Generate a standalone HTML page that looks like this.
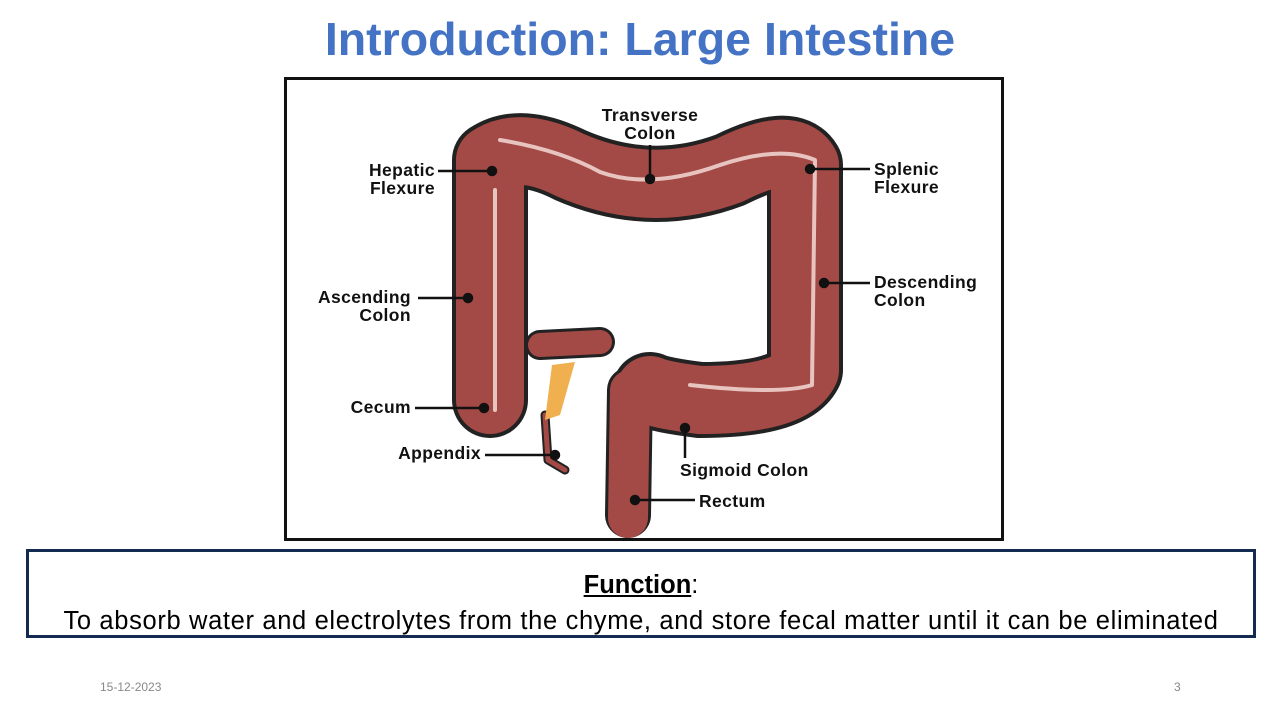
<!DOCTYPE html>
<html><head><meta charset="utf-8"><style>
body{margin:0;width:1280px;height:720px;background:#fff;position:relative;overflow:hidden;font-family:"Liberation Sans",Arial,sans-serif}
.t{position:absolute;left:0;width:1280px;top:12px;text-align:center;font-size:46.5px;font-weight:bold;color:#4472c4;font-family:"Liberation Sans",sans-serif}
.img{position:absolute;left:284px;top:77px;width:714px;height:458px;border:3px solid #111}
.fn{position:absolute;left:26px;top:549px;width:1224px;height:83px;border:3px solid #142a50;text-align:center;font-size:25.5px;color:#000}
.ft{position:absolute;top:680px;font-size:12px;color:#888}
</style></head><body>
<div class="t">Introduction: Large Intestine</div>
<div class="img"></div>
<svg style="position:absolute;left:0;top:0" width="1280" height="720">
<g fill="none" stroke-linecap="round" stroke-linejoin="round">
<path d="M540,345 L600,342" stroke="#222" stroke-width="30"/>
<path d="M540,345 L600,342" stroke="#a44a46" stroke-width="24"/>
<path d="M545,415 L548,460 L565,470" stroke="#222" stroke-width="9"/>
<path d="M545,415 L548,460 L565,470" stroke="#a44a46" stroke-width="5"/>
<path d="M490,400 L490,160 Q520,140 570,165 Q650,200 730,170 Q790,140 805,165 L805,370 Q790,400 700,400 Q660,395 650,390" stroke="#222" stroke-width="76"/>
<path d="M630,390 L628,515" stroke="#222" stroke-width="46"/>
<path d="M630,390 L628,518" stroke="#a44a46" stroke-width="40"/>
<path d="M490,400 L490,160 Q520,140 570,165 Q650,200 730,170 Q790,140 805,165 L805,370 Q790,400 700,400 Q660,395 650,390" stroke="#a44a46" stroke-width="68"/>
<path d="M495,410 L495,190 M500,140 Q560,150 600,172 Q650,190 720,165 Q780,145 815,160 L812,385 Q780,395 690,385" stroke="#e8c4c0" stroke-width="4"/>
</g>
<polygon points="552,365 575,362 560,415 545,420" fill="#f0b050"/>
<g stroke="#111" stroke-width="2.5" fill="#111">
<line x1="438" y1="171" x2="492" y2="171"/><circle cx="492" cy="171" r="4"/>
<line x1="418" y1="298" x2="468" y2="298"/><circle cx="468" cy="298" r="4"/>
<line x1="415" y1="408" x2="484" y2="408"/><circle cx="484" cy="408" r="4"/>
<line x1="485" y1="455" x2="555" y2="455"/><circle cx="555" cy="455" r="4"/>
<line x1="650" y1="145" x2="650" y2="179"/><circle cx="650" cy="179" r="4"/>
<line x1="810" y1="169" x2="870" y2="169"/><circle cx="810" cy="169" r="4"/>
<line x1="824" y1="283" x2="870" y2="283"/><circle cx="824" cy="283" r="4"/>
<line x1="685" y1="428" x2="685" y2="458"/><circle cx="685" cy="428" r="4"/>
<line x1="635" y1="500" x2="695" y2="500"/><circle cx="635" cy="500" r="4"/>
</g>
<g font-family="Liberation Sans,sans-serif" font-weight="bold" font-size="17.5" fill="#111" letter-spacing="0.4">
<text x="650" y="121" text-anchor="middle">Transverse</text><text x="650" y="139" text-anchor="middle">Colon</text>
<text x="435" y="176" text-anchor="end">Hepatic</text><text x="435" y="194" text-anchor="end">Flexure</text>
<text x="874" y="175">Splenic</text><text x="874" y="193">Flexure</text>
<text x="411" y="303" text-anchor="end">Ascending</text><text x="411" y="321" text-anchor="end">Colon</text>
<text x="874" y="288">Descending</text><text x="874" y="306">Colon</text>
<text x="411" y="413" text-anchor="end">Cecum</text>
<text x="481" y="459" text-anchor="end">Appendix</text>
<text x="680" y="476">Sigmoid Colon</text>
<text x="699" y="507">Rectum</text>
</g>
</svg>
<div class="fn"><div style="margin-top:18px;line-height:30px"><u><b>Function</b></u>:</div><div style="line-height:30px;margin-top:6px;letter-spacing:0.65px">To absorb water and electrolytes from the chyme, and store fecal matter until it can be eliminated</div></div>
<div class="ft" style="left:100px">15-12-2023</div>
<div class="ft" style="left:1174px">3</div>
</body></html>
